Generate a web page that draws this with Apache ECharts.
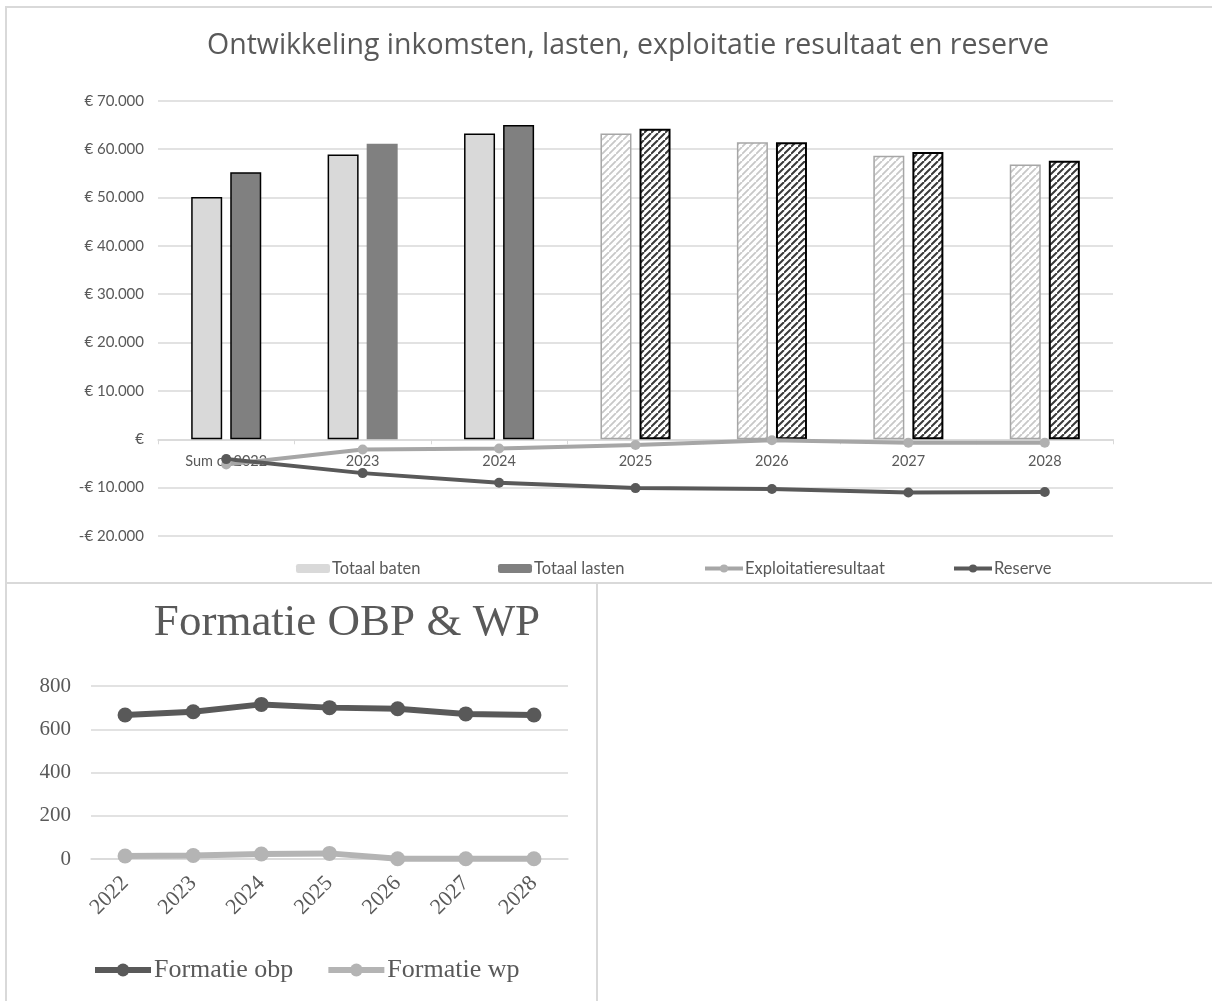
<!DOCTYPE html>
<html>
<head>
<meta charset="utf-8">
<script src="https://cdn.jsdelivr.net/npm/echarts@6/dist/echarts.min.js"></script>
<style>
html,body{margin:0;padding:0;background:#fff;}
#c{width:1212px;height:1001px;}
</style>
</head>
<body>
<div id="c"></div>
<script>
// ---- Top chart data ----
const finCategories = ['Sum of 2022', '2023', '2024', '2025', '2026', '2027', '2028'];
const totaalBaten = [50100, 58900, 63200, 63200, 61400, 58600, 56800];
const totaalLasten = [55200, 61100, 65000, 64200, 61400, 59400, 57600];
const exploitatieResultaat = [-5200, -2100, -1900, -1200, -200, -700, -700];
const reserve = [-4100, -7000, -9000, -10100, -10300, -11000, -10900];
const finYTicks = { min: -20000, max: 70000, interval: 10000 };

// ---- Bottom chart data ----
const formYears = ['2022', '2023', '2024', '2025', '2026', '2027', '2028'];
const formatieObp = [666, 681, 715, 700, 695, 671, 666];
const formatieWp = [14, 16, 23, 26, 1, 1, 1];
const formYTicks = { min: 0, max: 800, interval: 200 };

const txt = '#595959';
const grid = '#d9d9d9';

function hatch(lineColor, spacing, lw) {
  const c = document.createElement('canvas');
  c.width = spacing; c.height = spacing;
  const g = c.getContext('2d');
  g.fillStyle = '#ffffff';
  g.fillRect(0, 0, spacing, spacing);
  g.strokeStyle = lineColor;
  g.lineWidth = lw;
  g.beginPath();
  g.moveTo(0, spacing); g.lineTo(spacing, 0);
  g.moveTo(-spacing, spacing); g.lineTo(0, 0);
  g.moveTo(spacing, 2 * spacing); g.lineTo(2 * spacing, spacing);
  g.stroke();
  return { image: c, repeat: 'repeat' };
}
const lightHatch = hatch('#c8c8c8', 7, 1.8);
const darkHatch = hatch('#3a3a3a', 7, 2);

function eur(v) {
  if (v === 0) return '€';
  const s = String(Math.abs(v)).replace(/\B(?=(\d{3})+(?!\d))/g, '.');
  return (v < 0 ? '-' : '') + '€ ' + s;
}

const batenData = totaalBaten.map((v, i) => i >= 3
  ? { value: v, itemStyle: { color: lightHatch, borderColor: '#a6a6a6', borderWidth: 1.5 } }
  : { value: v });
const lastenData = totaalLasten.map((v, i) => {
  if (i >= 3) return { value: v, itemStyle: { color: darkHatch, borderColor: '#000', borderWidth: 2 } };
  if (i === 1) return { value: v, itemStyle: { borderWidth: 0 } };
  return { value: v };
});

const chart = echarts.init(document.getElementById('c'), null, { renderer: 'canvas' });
const fontSans = 'Lato';
const fontSerif = 'Liberation Serif';

const topGridTop = 100.7, topGridBottom = 536;
const zeroFrac = finYTicks.max / (finYTicks.max - finYTicks.min);
const zeroOffset = -((topGridBottom - topGridTop) * (1 - zeroFrac));

function topLegend(name, left, w, h) {
  return { left: left, top: 560, itemWidth: w, itemHeight: h, padding: 0,
    data: [name], itemStyle: { borderWidth: 0 }, lineStyle: { width: 4 },
    textStyle: { fontFamily: fontSans, fontSize: 16.5, color: txt, padding: [0, 0, 0, -3] } };
}

chart.setOption({
  animation: false,
  backgroundColor: '#fff',
  graphic: [
    { type: 'rect', shape: { x: 6, y: 7, width: 1230, height: 576 }, style: { fill: 'none', stroke: grid, lineWidth: 2 }, z: 0 },
    { type: 'rect', shape: { x: 6, y: 583, width: 591, height: 440 }, style: { fill: 'none', stroke: grid, lineWidth: 2 }, z: 0 }
  ],
  title: [
    { text: 'Ontwikkeling inkomsten, lasten, exploitatie resultaat en reserve', left: 628, textAlign: 'center', top: 31, padding: 0,
      textStyle: { fontFamily: 'Open Sans', fontSize: 28.5, fontWeight: 'normal', color: txt } },
    { text: 'Formatie OBP & WP', left: 347, textAlign: 'center', top: 601, padding: 0,
      textStyle: { fontFamily: fontSerif, fontSize: 45, fontWeight: 'normal', color: txt } }
  ],
  legend: [
    topLegend('Totaal baten', 296, 34, 9),
    topLegend('Totaal lasten', 498, 34, 9),
    topLegend('Exploitatieresultaat', 703, 38, 10),
    topLegend('Reserve', 952, 38, 10),
    { left: 92, top: 957, itemWidth: 56, itemHeight: 16, itemGap: 32, padding: 0,
      data: ['Formatie obp', 'Formatie wp'], lineStyle: { width: 6 },
      textStyle: { fontFamily: fontSerif, fontSize: 26, color: txt, padding: [0, 0, 0, -2] } }
  ],
  grid: [
    { left: 158, right: 1212 - 1113, top: topGridTop, height: topGridBottom - topGridTop, containLabel: false },
    { left: 91, right: 1212 - 568, top: 686, height: 859 - 686, containLabel: false }
  ],
  xAxis: [
    { type: 'category', gridIndex: 0, data: finCategories, position: 'bottom', offset: zeroOffset,
      axisLine: { onZero: false, lineStyle: { color: grid, width: 1.5 } },
      axisTick: { show: true, length: 5, lineStyle: { color: grid } },
      axisLabel: { color: txt, fontFamily: fontSans, fontSize: 14.5, margin: 15 } },
    { type: 'category', gridIndex: 1, data: formYears,
      axisLine: { show: true, lineStyle: { color: grid, width: 1.5 } },
      axisTick: { show: false },
      axisLabel: { color: txt, fontFamily: fontSerif, fontSize: 22, rotate: 45, margin: 21 } }
  ],
  yAxis: [
    { type: 'value', gridIndex: 0, min: finYTicks.min, max: finYTicks.max, interval: finYTicks.interval,
      axisLine: { show: false }, axisTick: { show: false },
      splitLine: { lineStyle: { color: grid, width: 1.5 } },
      axisLabel: { color: txt, fontFamily: fontSans, fontSize: 15, margin: 14, formatter: eur } },
    { type: 'value', gridIndex: 1, min: formYTicks.min, max: formYTicks.max, interval: formYTicks.interval,
      axisLine: { show: false }, axisTick: { show: false },
      splitLine: { lineStyle: { color: grid, width: 1.5 } },
      axisLabel: { color: txt, fontFamily: fontSerif, fontSize: 21, margin: 20 } }
  ],
  series: [
    { name: 'Totaal baten', type: 'bar', xAxisIndex: 0, yAxisIndex: 0, data: batenData,
      barWidth: 31, barGap: '26%',
      itemStyle: { color: '#d9d9d9', borderColor: '#000', borderWidth: 1.5 }, z: 2 },
    { name: 'Totaal lasten', type: 'bar', xAxisIndex: 0, yAxisIndex: 0, data: lastenData,
      barWidth: 31, barGap: '26%',
      itemStyle: { color: '#808080', borderColor: '#000', borderWidth: 1.5 }, z: 2 },
    { name: 'Exploitatieresultaat', type: 'line', xAxisIndex: 0, yAxisIndex: 0, data: exploitatieResultaat,
      symbol: 'circle', symbolSize: 10, lineStyle: { color: '#a6a6a6', width: 4 },
      itemStyle: { color: '#b0b0b0' }, z: 5 },
    { name: 'Reserve', type: 'line', xAxisIndex: 0, yAxisIndex: 0, data: reserve,
      symbol: 'circle', symbolSize: 10, lineStyle: { color: '#595959', width: 4 },
      itemStyle: { color: '#595959' }, z: 6 },
    { name: 'Formatie obp', type: 'line', xAxisIndex: 1, yAxisIndex: 1, data: formatieObp,
      symbol: 'circle', symbolSize: 15, lineStyle: { color: '#595959', width: 6 },
      itemStyle: { color: '#595959' }, z: 5 },
    { name: 'Formatie wp', type: 'line', xAxisIndex: 1, yAxisIndex: 1, data: formatieWp,
      symbol: 'circle', symbolSize: 15, lineStyle: { color: '#b4b4b4', width: 6 },
      itemStyle: { color: '#b4b4b4' }, z: 5 }
  ]
});
</script>
</body>
</html>
